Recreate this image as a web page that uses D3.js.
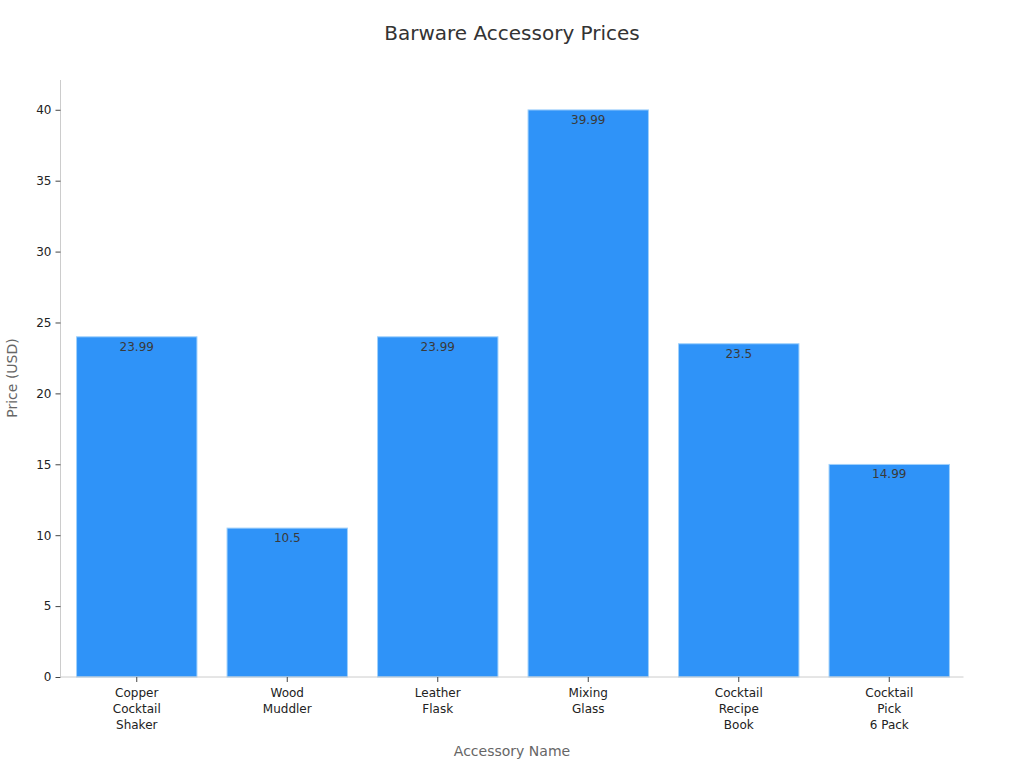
<!DOCTYPE html>
<html><head><meta charset="utf-8">
<script src="https://cdn.jsdelivr.net/npm/d3@7"></script>
<style>body{margin:0;background:#fff;font-family:"DejaVu Sans",sans-serif}</style>
</head><body><svg id="c" width="1024" height="768"></svg>
<script>
const categories = [["Copper","Cocktail","Shaker"],["Wood","Muddler"],["Leather","Flask"],["Mixing","Glass"],["Cocktail","Recipe","Book"],["Cocktail","Pick","6 Pack"]];
const prices = [23.99, 10.5, 23.99, 39.99, 23.5, 14.99];
const yTicks = [0,5,10,15,20,25,30,35,40];

const svg = d3.select("#c");
const m = {l:60.5, r:963.5, t:80, b:677};
const names = categories.map(c=>c.join(" "));
const x = d3.scaleBand().domain(names).range([m.l+1, m.r+1]).paddingInner(0.2).paddingOuter(0.1);
const y = d3.scaleLinear().domain([0, 42.1]).range([m.b, m.t]);

svg.append("text").attr("x",512).attr("y",40).attr("text-anchor","middle")
  .attr("font-size",20).attr("fill","#333").text("Barware Accessory Prices");

svg.selectAll("rect.bar").data(prices).join("rect").attr("class","bar")
  .attr("x",(d,i)=>x(names[i])).attr("width",x.bandwidth())
  .attr("y",d=>y(d)).attr("height",d=>y(0)-y(d))
  .attr("fill","#2f93f8").attr("stroke","#9fd0fb").attr("stroke-width",1);

svg.selectAll("text.val").data(prices).join("text").attr("class","val")
  .attr("x",(d,i)=>x(names[i])+x.bandwidth()/2).attr("y",d=>y(d)+14)
  .attr("text-anchor","middle").attr("font-size",12).attr("fill","#3a3a3a").text(d=>String(d));

// y axis
const ya = svg.append("g").attr("transform",`translate(${m.l},0)`)
  .call(d3.axisLeft(y).tickValues(yTicks).tickSize(5).tickPadding(4));
ya.select(".domain").attr("stroke","#ccc").attr("d",`M0,${m.t}V${m.b}`);
ya.selectAll(".tick line").attr("stroke","#444");
ya.selectAll(".tick text").attr("font-size",12).attr("fill","#222").attr("font-family","DejaVu Sans");

// x axis
const xa = svg.append("g").attr("transform",`translate(0,${m.b})`)
  .call(d3.axisBottom(x).tickSize(5).tickFormat(""));
xa.select(".domain").attr("stroke","#ccc").attr("d",`M${m.l},0H${m.r}`);
xa.selectAll(".tick line").attr("stroke","#444");
xa.selectAll(".tick").each(function(d,i){
  const t = d3.select(this).append("text").attr("fill","#222").attr("font-size",12)
    .attr("text-anchor","middle").attr("font-family","DejaVu Sans");
  categories[i].forEach((s,j)=>t.append("tspan").attr("x",0).attr("y",20+16*j).text(s));
});

svg.append("text").attr("x",512).attr("y",756).attr("text-anchor","middle")
  .attr("font-size",14).attr("fill","#666").text("Accessory Name");
svg.append("text").attr("transform","translate(17,378) rotate(-90)").attr("text-anchor","middle")
  .attr("font-size",14).attr("fill","#666").text("Price (USD)");
</script></body></html>
